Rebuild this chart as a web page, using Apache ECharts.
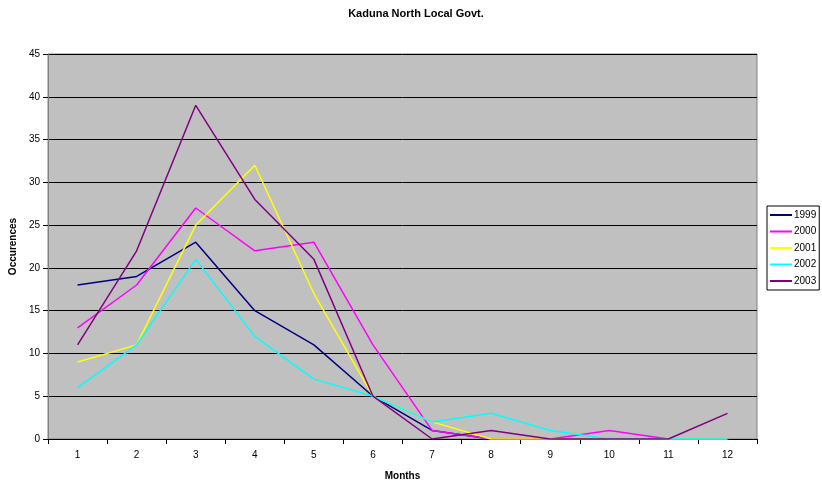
<!DOCTYPE html>
<html>
<head>
<meta charset="utf-8">
<script src="https://cdn.jsdelivr.net/npm/echarts@6/dist/echarts.min.js"></script>
<style>
  html, body { margin: 0; padding: 0; background: #ffffff; }
  #chart { width: 822px; height: 486px; }
</style>
</head>
<body>
<div id="chart"></div>
<script>
// Monthly occurrences, Kaduna North Local Government, 1999–2003
const months = ['1', '2', '3', '4', '5', '6', '7', '8', '9', '10', '11', '12'];
const yearNames = ['1999', '2000', '2001', '2002', '2003'];
const y1999 = [18, 19, 23, 15, 11, 5, 1, 0, 0, 0, 0, 0];
const y2000 = [13, 18, 27, 22, 23, 11, 1, 0, 0, 1, 0, 0];
const y2001 = [9, 11, 25, 32, 17, 5, 2, 0, 0, 0, 0, 0];
const y2002 = [6, 11, 21, 12, 7, 5, 2, 3, 1, 0, 0, 0];
const y2003 = [11, 22, 39, 28, 21, 5, 0, 1, 0, 0, 0, 3];
const yearColors = ['#000080', '#FF00FF', '#FFFF00', '#00FFFF', '#800080'];

const seriesValues = [y1999, y2000, y2001, y2002, y2003];
const font = 'Arial, "Liberation Sans", sans-serif';

const chart = echarts.init(document.getElementById('chart'));
chart.setOption({
  animation: false,
  title: {
    text: 'Kaduna North Local Govt.',
    left: 411, top: 3, textAlign: 'center',
    textStyle: { fontFamily: font, fontSize: 11, fontWeight: 'bold', color: '#000' }
  },
  legend: {
    orient: 'vertical',
    left: 767, top: 206,
    backgroundColor: '#ffffff',
    borderColor: '#000000',
    borderWidth: 1,
    borderRadius: 0,
    padding: [4, 3, 4, 3],
    itemGap: 6.5,
    itemWidth: 22,
    itemHeight: 2,
    icon: 'rect',
    textStyle: { fontFamily: font, fontSize: 10, color: '#000', padding: [0, 0, 0, -3] },
    data: yearNames
  },
  grid: {
    left: 48, right: 65, top: 54, bottom: 44,
    show: true,
    backgroundColor: '#C0C0C0',
    borderColor: '#808080',
    borderWidth: 1
  },
  xAxis: {
    type: 'category',
    data: months,
    boundaryGap: true,
    name: 'Months',
    nameLocation: 'middle',
    nameGap: 32,
    nameTextStyle: { fontFamily: font, fontSize: 10, fontWeight: 'bold', color: '#000' },
    axisLine: { lineStyle: { color: '#000', width: 1 } },
    axisTick: { show: true, length: 5, lineStyle: { color: '#000' } },
    axisLabel: { fontFamily: font, fontSize: 10, color: '#000', margin: 11 }
  },
  yAxis: {
    type: 'value',
    min: 0, max: 45, interval: 5,
    name: 'Occurences',
    nameLocation: 'middle',
    nameGap: 28,
    nameTextStyle: { fontFamily: font, fontSize: 10, fontWeight: 'bold', color: '#000' },
    axisLine: { show: true, lineStyle: { color: '#808080', width: 1 } },
    axisTick: { show: true, length: 5, lineStyle: { color: '#000' } },
    axisLabel: { fontFamily: font, fontSize: 10, color: '#000', margin: 8 },
    splitLine: { show: true, lineStyle: { color: '#000', width: 1 } }
  },
  series: yearNames.map((name, i) => ({
    name: name,
    type: 'line',
    data: seriesValues[i],
    color: yearColors[i],
    showSymbol: false,
    symbol: 'none',
    lineStyle: { width: 1.5, color: yearColors[i] }
  }))
});
</script>
</body>
</html>
